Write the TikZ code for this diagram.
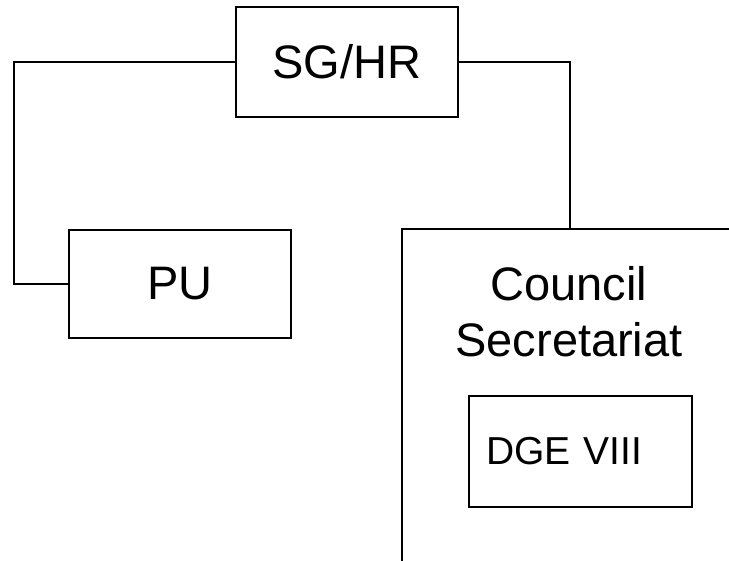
\documentclass[tikz,border=0pt]{standalone}
\usepackage{fontspec}
\setmainfont{Liberation Sans}
\begin{document}
\begin{tikzpicture}[x=1pt,y=-1pt,
  box/.style={draw,line width=2.2pt,rectangle,inner sep=0pt},
  conn/.style={draw,line width=2.2pt},
  big/.style={font=\fontsize{47}{56}\selectfont},
  mid/.style={font=\fontsize{39}{42}\selectfont}]
\useasboundingbox (0,0) rectangle (729,561);
\node[box,big,minimum width=222pt,minimum height=110pt] (sg) at (347,62) {SG/HR};
\node[box,big,minimum width=222pt,minimum height=108pt] (pu) at (180,284) {PU};
\node[box,mid,minimum height=111pt,inner xsep=17pt,text width=189pt,align=left] (dge) at (580.5,451.5) {DGE VIII};
\node[big,align=center,inner sep=0pt] (cstext) at (569,312) {Council\\Secretariat};
\coordinate (cstop) at (570,229);
\coordinate (csright) at (729,229);
\coordinate (csbottom) at (402,561);
\coordinate (lk) at (14,62);
\draw[conn] (csright) -- (csright -| csbottom) -- (csbottom);
\draw[conn] (sg.west) -- (lk) |- (pu.west);
\draw[conn] (sg.east) -| (cstop);
\end{tikzpicture}
\end{document}
